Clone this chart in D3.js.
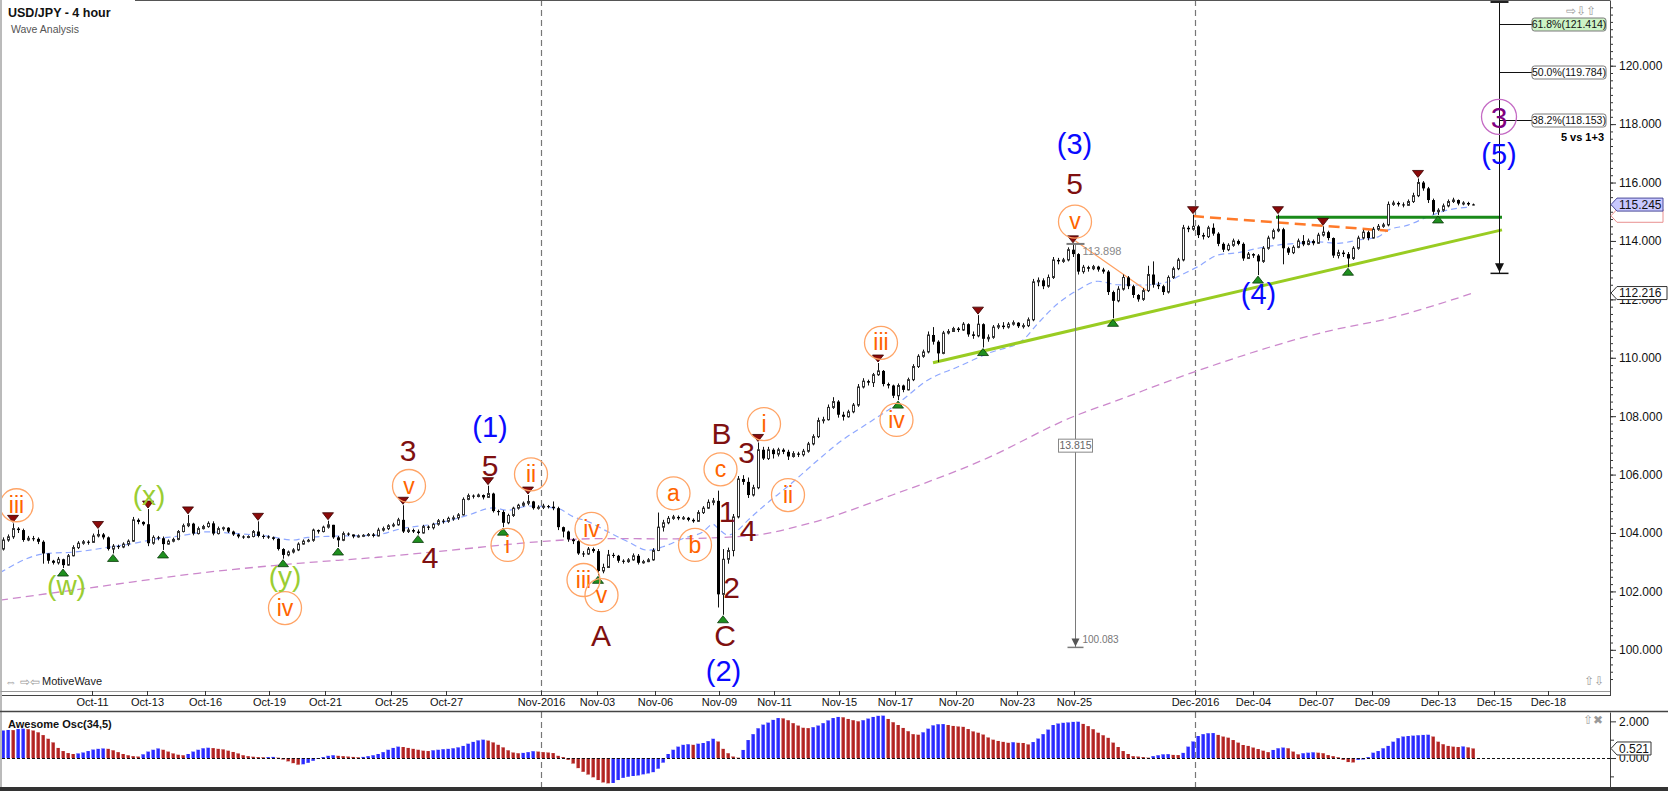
<!DOCTYPE html>
<html>
<head>
<meta charset="utf-8">
<script src="https://cdn.jsdelivr.net/npm/d3@7"></script>
<style>
  body { margin: 0; background: #fff; }
  svg { display: block; }
  text { font-family: "Liberation Sans", Arial, sans-serif; }
</style>
</head>
<body>
<svg id="chart" width="1668" height="791"></svg>
<script>
// ---- data (bar index = 4-hour bar, prices in yen) ----
const firstOpen = 103.45;
const closes = [
  103.76, 103.87, 104.15, 104.10, 103.76, 103.82, 103.80, 103.70, 103.30, 103.05,
  102.98, 103.10, 102.90, 103.22, 103.50, 103.65, 103.70, 103.68, 103.90, 103.95,
  103.85, 103.45, 103.55, 103.52, 103.62, 103.72, 104.45, 104.38, 104.30, 103.65,
  103.85, 103.82, 103.62, 103.72, 103.78, 104.05, 104.25, 104.32, 103.98, 104.15,
  104.22, 104.33, 103.98, 104.15, 104.18, 104.05, 103.95, 103.88, 103.85, 103.88,
  104.05, 103.90, 103.88, 103.85, 103.80, 103.45, 103.25, 103.35, 103.42, 103.62,
  103.72, 103.75, 104.10, 104.05, 104.20, 104.28, 103.85, 103.75, 103.98, 103.95,
  103.88, 103.90, 103.92, 103.95, 103.90, 104.10, 104.15, 104.25, 104.28, 104.45,
  104.05, 104.10, 104.05, 104.00, 104.22, 104.18, 104.30, 104.42, 104.40, 104.50,
  104.52, 104.62, 105.15, 105.28, 105.25, 105.30, 105.22, 105.35, 104.75, 104.72,
  104.35, 104.60, 104.85, 104.95, 105.02, 105.08, 104.85, 104.88, 104.92, 104.90,
  104.85, 104.20, 104.05, 103.78, 103.72, 103.30, 103.28, 103.45, 103.38, 102.70,
  102.82, 103.25, 103.22, 103.05, 103.02, 103.08, 103.22, 102.98, 103.02, 103.08,
  103.40, 104.20, 104.35, 104.50, 104.55, 104.50, 104.52, 104.45, 104.40, 104.70,
  104.85, 105.05, 105.10, 101.90, 103.10, 103.40, 104.55, 105.85, 105.75, 105.30,
  105.55, 106.85, 106.55, 106.85, 106.70, 106.85, 106.78, 106.62, 106.72, 106.68,
  106.80, 107.05, 107.30, 107.85, 107.88, 108.30, 108.50, 108.05, 107.98, 108.15,
  108.38, 109.00, 109.20, 109.15, 109.42, 109.55, 109.10, 109.05, 108.70, 109.05,
  108.90, 109.25, 109.70, 110.05, 110.20, 110.78, 110.55, 110.15, 110.85, 110.90,
  111.00, 110.95, 111.15, 110.80, 110.75, 111.15, 110.65, 110.70, 111.05, 111.10,
  111.05, 111.15, 111.20, 111.08, 111.10, 111.30, 112.60, 112.65, 112.45, 112.75,
  113.35, 113.30, 113.35, 113.70, 113.55, 112.95, 113.10, 113.05, 113.12, 113.02,
  112.95, 112.25, 111.95, 112.35, 112.75, 112.45, 112.15, 112.00, 112.30, 112.85,
  112.50, 112.45, 112.25, 112.75, 113.05, 113.35, 114.45, 114.40, 114.50, 114.20,
  114.15, 114.45, 114.25, 113.90, 113.70, 113.85, 114.00, 113.90, 113.40, 113.55,
  113.50, 113.30, 113.75, 114.10, 114.35, 114.40, 113.75, 113.60, 113.78, 114.00,
  113.88, 114.00, 113.92, 114.20, 114.30, 114.10, 113.50, 113.60, 113.55, 113.40,
  113.75, 114.10, 114.30, 114.10, 114.40, 114.50, 114.55, 115.25, 115.30, 115.25,
  115.22, 115.35, 115.55, 116.00, 115.80, 115.40, 115.00, 115.05, 115.20, 115.35,
  115.40, 115.28, 115.30, 115.25, 115.245
];
const highs = [
  103.85, 103.95, 104.33, 104.20, 104.15, 103.90, 103.90, 103.85, 103.75, 103.30,
  103.08, 103.18, 103.12, 103.28, 103.58, 103.72, 103.76, 103.75, 103.98, 104.12,
  104.00, 103.88, 103.62, 103.60, 103.68, 103.78, 104.55, 104.50, 104.40, 104.82,
  103.92, 103.90, 103.88, 103.78, 103.84, 104.10, 104.32, 104.62, 104.35, 104.22,
  104.28, 104.40, 104.40, 104.22, 104.22, 104.20, 104.08, 103.98, 103.92, 103.92,
  104.10, 104.40, 103.95, 103.92, 103.88, 103.82, 103.48, 103.40, 103.48, 103.68,
  103.78, 103.80, 104.15, 104.12, 104.25, 104.42, 104.28, 103.90, 104.05, 104.02,
  103.95, 103.95, 103.96, 104.00, 104.00, 104.18, 104.22, 104.30, 104.35, 104.52,
  104.95, 104.18, 104.15, 104.12, 104.28, 104.26, 104.35, 104.48, 104.48, 104.56,
  104.60, 104.68, 105.22, 105.35, 105.32, 105.35, 105.32, 105.62, 105.38, 104.80,
  104.78, 104.66, 104.90, 105.00, 105.08, 105.30, 105.10, 104.95, 105.00, 104.96,
  105.08, 104.90, 104.22, 104.08, 103.82, 103.75, 103.38, 103.52, 103.50, 103.45,
  102.95, 103.42, 103.32, 103.25, 103.10, 103.14, 103.30, 103.28, 103.08, 103.14,
  103.48, 104.70, 104.45, 104.58, 104.62, 104.60, 104.58, 104.55, 104.50, 104.78,
  104.92, 105.15, 105.20, 105.45, 103.45, 103.50, 104.65, 105.95, 105.98, 105.90,
  105.65, 107.10, 106.95, 106.95, 106.90, 106.92, 106.90, 106.85, 106.80, 106.78,
  106.88, 107.12, 107.38, 107.95, 107.98, 108.40, 108.65, 108.55, 108.15, 108.22,
  108.45, 109.10, 109.30, 109.25, 109.48, 109.82, 109.58, 109.15, 109.08, 109.12,
  109.08, 109.32, 109.78, 110.12, 110.28, 110.90, 111.05, 110.60, 110.92, 110.98,
  111.06, 111.05, 111.22, 111.18, 110.90, 111.46, 111.18, 110.80, 111.12, 111.18,
  111.22, 111.22, 111.28, 111.22, 111.18, 111.38, 112.70, 112.75, 112.72, 112.85,
  113.45, 113.42, 113.42, 113.78, 113.90, 113.58, 113.18, 113.15, 113.18, 113.15,
  113.08, 113.00, 112.30, 112.45, 112.85, 112.80, 112.50, 112.18, 112.38, 113.15,
  113.30, 112.60, 112.50, 112.82, 113.12, 113.42, 114.55, 114.52, 114.90, 114.55,
  114.28, 114.52, 114.60, 114.30, 113.95, 113.92, 114.08, 114.05, 113.95, 113.62,
  113.58, 113.55, 113.82, 114.18, 114.42, 114.90, 114.45, 113.80, 113.85, 114.08,
  114.20, 114.08, 114.05, 114.28, 114.50, 114.35, 114.12, 113.70, 113.68, 113.62,
  113.82, 114.18, 114.38, 114.35, 114.48, 114.58, 114.62, 115.35, 115.38, 115.35,
  115.32, 115.42, 115.65, 116.14, 116.05, 115.85, 115.45, 115.12, 115.28, 115.42,
  115.48, 115.42, 115.36, 115.34, 115.28
];
const lows = [
  103.40, 103.70, 103.80, 104.00, 103.70, 103.72, 103.72, 103.62, 102.95, 102.95,
  102.92, 102.92, 102.80, 102.88, 103.20, 103.45, 103.60, 103.60, 103.66, 103.85,
  103.78, 103.40, 103.30, 103.45, 103.48, 103.55, 103.70, 104.30, 104.25, 103.55,
  103.60, 103.75, 103.42, 103.60, 103.68, 103.75, 104.02, 104.20, 103.92, 103.95,
  104.12, 104.18, 103.92, 103.95, 104.08, 104.00, 103.90, 103.82, 103.80, 103.82,
  103.85, 103.85, 103.80, 103.80, 103.75, 103.40, 103.12, 103.20, 103.30, 103.38,
  103.60, 103.68, 103.70, 103.98, 104.02, 104.15, 103.80, 103.52, 103.72, 103.90,
  103.82, 103.84, 103.86, 103.88, 103.85, 103.88, 104.05, 104.10, 104.20, 104.25,
  104.00, 104.00, 104.00, 103.95, 103.98, 104.10, 104.12, 104.25, 104.32, 104.35,
  104.42, 104.45, 104.60, 105.12, 105.18, 105.22, 105.15, 105.20, 104.70, 104.60,
  104.20, 104.30, 104.55, 104.80, 104.90, 104.95, 104.80, 104.80, 104.82, 104.84,
  104.78, 104.10, 103.85, 103.70, 103.62, 103.25, 103.18, 103.25, 103.32, 102.55,
  102.62, 102.80, 103.15, 102.98, 102.95, 102.98, 103.05, 102.92, 102.95, 103.00,
  103.05, 103.38, 104.05, 104.30, 104.45, 104.44, 104.45, 104.40, 104.35, 104.38,
  104.65, 104.82, 104.95, 101.45, 101.20, 102.95, 103.20, 104.50, 105.65, 105.20,
  105.25, 105.50, 106.50, 106.50, 106.55, 106.62, 106.70, 106.50, 106.58, 106.60,
  106.62, 106.75, 107.00, 107.25, 107.75, 107.85, 108.25, 107.95, 107.85, 107.95,
  108.10, 108.32, 108.95, 109.05, 109.00, 109.38, 109.02, 108.95, 108.62, 108.55,
  108.82, 108.88, 109.20, 109.65, 110.00, 110.15, 110.45, 109.85, 110.12, 110.80,
  110.90, 110.88, 110.92, 110.72, 110.65, 110.70, 110.35, 110.55, 110.65, 110.98,
  110.98, 111.00, 111.10, 111.02, 111.00, 111.05, 111.25, 112.45, 112.35, 112.40,
  112.70, 113.20, 113.25, 113.30, 113.45, 112.85, 112.88, 112.95, 113.00, 112.95,
  112.88, 112.15, 111.35, 111.90, 112.30, 112.35, 112.05, 111.92, 111.95, 112.25,
  112.40, 112.35, 112.15, 112.20, 112.70, 113.00, 113.30, 114.30, 114.35, 114.10,
  114.05, 114.10, 114.18, 113.82, 113.62, 113.65, 113.80, 113.85, 113.32, 113.38,
  113.42, 112.83, 113.25, 113.70, 114.05, 114.30, 113.20, 113.52, 113.55, 113.75,
  113.82, 113.85, 113.85, 113.90, 114.15, 114.02, 113.42, 113.40, 113.45, 113.10,
  113.35, 113.70, 114.05, 114.02, 114.08, 114.35, 114.45, 114.50, 115.20, 115.18,
  115.15, 115.20, 115.30, 115.50, 115.72, 115.30, 114.90, 114.89, 115.00, 115.15,
  115.30, 115.22, 115.22, 115.20, 115.22
];
const awesomeOsc = [
  1.50, 1.53, 1.52, 1.58, 1.60, 1.57, 1.50, 1.40, 1.25, 1.05,
  0.85, 0.55, 0.38, 0.27, 0.22, 0.25, 0.30, 0.38, 0.46, 0.50,
  0.52, 0.50, 0.42, 0.32, 0.22, 0.15, 0.10, 0.08, 0.20, 0.35,
  0.45, 0.52, 0.45, 0.35, 0.25, 0.18, 0.15, 0.22, 0.35, 0.45,
  0.53, 0.56, 0.54, 0.50, 0.47, 0.40, 0.33, 0.25, 0.15, 0.10,
  0.07, 0.05, 0.04, 0.05, 0.06, 0.02, -0.08, -0.18, -0.28, -0.36,
  -0.34, -0.26, -0.15, -0.05, 0.05, 0.12, 0.15, 0.12, 0.10, 0.08,
  0.06, 0.04, 0.06, 0.10, 0.15, 0.22, 0.32, 0.45, 0.55, 0.62,
  0.60, 0.55, 0.50, 0.45, 0.40, 0.38, 0.42, 0.45, 0.48, 0.50,
  0.53, 0.58, 0.66, 0.78, 0.88, 0.96, 1.00, 0.95, 0.85, 0.72,
  0.58, 0.42, 0.30, 0.26, 0.28, 0.32, 0.37, 0.35, 0.32, 0.30,
  0.27, 0.12, 0.05, -0.10, -0.30, -0.55, -0.75, -0.90, -1.05, -1.20,
  -1.33, -1.38, -1.36, -1.20, -1.08, -1.02, -0.98, -0.95, -0.89, -0.84,
  -0.77, -0.58, -0.25, 0.22, 0.45, 0.62, 0.72, 0.75, 0.72, 0.78,
  0.82, 0.92, 1.05, 0.90, 0.50, 0.26, 0.08, 0.02, 0.44, 0.98,
  1.30, 1.62, 1.82, 1.93, 2.08, 2.18, 2.16, 2.06, 1.90, 1.77,
  1.65, 1.63, 1.68, 1.77, 1.90, 2.05, 2.18, 2.24, 2.22, 2.13,
  2.06, 2.00, 2.06, 2.15, 2.24, 2.30, 2.31, 2.13, 1.95, 1.80,
  1.64, 1.46, 1.30, 1.27, 1.40, 1.60, 1.78, 1.84, 1.85, 1.80,
  1.75, 1.72, 1.70, 1.58, 1.45, 1.38, 1.28, 1.12, 1.00, 0.93,
  0.88, 0.83, 0.86, 0.83, 0.82, 0.74, 0.87, 1.06, 1.30, 1.55,
  1.80, 1.88, 1.92, 1.94, 1.97, 1.98, 1.86, 1.74, 1.57, 1.38,
  1.24, 1.10, 0.84, 0.60, 0.38, 0.22, 0.10, 0.08, 0.05, 0.02,
  0.10, 0.15, 0.20, 0.21, 0.17, 0.16, 0.28, 0.62, 0.90, 1.20,
  1.30, 1.35, 1.36, 1.26, 1.17, 1.11, 0.98, 0.84, 0.71, 0.66,
  0.57, 0.49, 0.40, 0.32, 0.44, 0.53, 0.57, 0.53, 0.35, 0.20,
  0.26, 0.29, 0.31, 0.29, 0.26, 0.16, 0.10, 0.04, -0.10, -0.22,
  -0.24, -0.10, -0.08, 0.05, 0.29, 0.38, 0.53, 0.66, 0.89, 1.08,
  1.17, 1.20, 1.22, 1.24, 1.26, 1.27, 1.17, 0.89, 0.75, 0.66,
  0.62, 0.60, 0.63, 0.58, 0.521
];

// moving averages, vertices: [bar, price]
const fastMa = [
  [-0.6, 102.64], [8, 103.28], [15, 103.36], [21, 103.51], [26, 103.64], [31, 103.81],
  [35, 103.89], [41, 104.04], [46, 103.99], [53, 103.89], [58, 103.76], [61, 103.85],
  [66, 103.89], [74, 103.92], [80, 104.16], [87, 104.33], [93, 104.61], [98, 104.86],
  [101, 104.78], [105, 104.92], [111, 104.84], [114, 104.56], [117, 104.39], [121, 104.04],
  [125, 103.70], [129, 103.41], [132, 103.53], [136, 103.81], [140, 104.04], [142, 104.30],
  [143, 104.16], [145, 103.93], [147, 104.10], [149, 104.44], [152, 104.90], [157, 105.60],
  [163, 106.50], [167, 107.07], [174, 107.87], [179, 108.44], [185, 109.24], [191, 109.69],
  [197, 110.15], [204, 110.61], [207, 111.18], [211, 111.86], [215, 112.32], [219, 112.62],
  [223, 112.50], [228, 112.49], [233, 112.60], [235, 112.78], [239, 113.12], [243, 113.52],
  [247, 113.60], [251, 113.75], [255, 113.86], [259, 113.92], [263, 113.97], [267, 113.92],
  [271, 114.03], [275, 114.14], [277, 114.37], [281, 114.54], [285, 114.83], [289, 115.06],
  [293, 115.15]
];
const slowMa = [
  [-0.6, 101.70], [19, 102.16], [39, 102.62], [59, 102.96], [75, 103.17], [93, 103.47],
  [107, 103.70], [120, 103.81], [133, 103.80], [149, 103.90], [161, 104.32], [178, 105.31],
  [196, 106.50], [214, 107.98], [223, 108.55], [238, 109.50], [266, 110.95], [276, 111.30],
  [294, 112.216]
];

// x axis
const dateTicks = ['Oct-11', 'Oct-13', 'Oct-16', 'Oct-19', 'Oct-21', 'Oct-25', 'Oct-27', 'Nov-2016',
  'Nov-03', 'Nov-06', 'Nov-09', 'Nov-11', 'Nov-15', 'Nov-17', 'Nov-20', 'Nov-23', 'Nov-25',
  'Dec-2016', 'Dec-04', 'Dec-07', 'Dec-09', 'Dec-13', 'Dec-15', 'Dec-18'];
const dateTickBars = [17.8, 28.8, 40.4, 53.2, 64.4, 77.6, 88.6, 107.6, 118.8, 130.4, 143.2, 154.2,
  167.2, 178.4, 190.6, 202.8, 214.2, 238.4, 250, 262.6, 273.8, 287, 298.2, 309];
const monthStarts = [107.6, 238.4];
const priceTicks = [100, 102, 104, 106, 108, 110, 112, 114, 116, 118, 120];
const oscTicks = [0, 2];

// swing markers (bar indexes)
const swingHighs = [2, 19, 29, 37, 51, 65, 80, 97, 105, 151, 175, 195, 214, 238, 255, 264, 283];
const swingLows = [12, 22, 32, 56, 67, 83, 100, 119, 144, 179, 196, 222, 251, 269, 287];

// wave labels: [bar, price, text]
const minuteWaves = [
  [2.7, 104.95, 'iii'], [56.4, 101.43, 'iv'], [81.2, 105.61, 'v'], [100.9, 103.59, 'i'],
  [105.6, 106.01, 'ii'], [117.7, 104.14, 'iv'], [116.1, 102.39, 'iii'], [119.7, 101.87, 'v'],
  [134.1, 105.36, 'a'], [138.4, 103.59, 'b'], [143.5, 106.18, 'c'], [152.2, 107.73, 'i'],
  [157, 105.30, 'ii'], [175.6, 110.51, 'iii'], [178.7, 107.87, 'iv'], [214.4, 114.66, 'v']
];
const minorWaves = [
  [81, 106.84, '3'], [85.4, 103.18, '4'], [97.4, 106.33, '5'], [119.6, 100.50, 'A'],
  [143.7, 107.41, 'B'], [144.8, 104.73, '1'], [145.7, 102.16, '2'], [144.4, 100.50, 'C'],
  [148.7, 106.77, '3'], [149, 104.10, '4'], [214.3, 115.98, '5']
];
const intermediateWaves = [
  [97.4, 107.64, '(1)'], [144.1, 99.30, '(2)'], [214.3, 117.33, '(3)'], [251.1, 112.21, '(4)'],
  [299.2, 117.00, '(5)']
];
const complexWaves = [[12.7, 102.16, '(w)'], [29.2, 105.24, '(x)'], [56.4, 102.46, '(y)']];
const primaryWave = [299.2, 118.25, '3'];

// drawn lines: [[bar, price], [bar, price]]
const supportLine = [[186, 109.83], [299.8, 114.38]];
const resistanceLine = [[238, 114.85], [277, 114.35]];
const breakoutLine = [[254.6, 114.81], [299.8, 114.81]];
const channelLine = [[214.5, 114.0], [228.7, 112.3]];

// measure and fibonacci tools
const measureBar = 214.4;
const measureFrom = 113.898;
const measureTo = 100.083;
const fibBar = 299.2;
const fibTop = 122.18;
const fibBottom = 112.89;
const fibRatios = ['61.8%', '50.0%', '38.2%'];
const fibPrices = [121.414, 119.784, 118.153];

// ---- layout ----
const W = 1668, H = 791;
const plotLeft = 2, plotRight = 1610, mainBottom = 691, oscTop = 712, oscBottom = 787;

const svg = d3.select('#chart');
const x = d3.scaleLinear().domain([-0.6, 321.4]).range([0, plotRight]);
const y = d3.scaleLinear().domain([98.59, 122.25]).range([mainBottom, 0]);
const yOsc = d3.scaleLinear().domain([-1.58, 2.51]).range([oscBottom, oscTop]);
const px = (v) => Math.round(v) + 0.5;

svg.append('rect').attr('width', W).attr('height', H).attr('fill', '#fff');

const defs = svg.append('defs');
defs.append('clipPath').attr('id', 'clipMain').append('rect')
  .attr('x', plotLeft).attr('y', 0).attr('width', plotRight - plotLeft).attr('height', mainBottom);
defs.append('clipPath').attr('id', 'clipOsc').append('rect')
  .attr('x', plotLeft).attr('y', oscTop).attr('width', plotRight - plotLeft).attr('height', oscBottom - oscTop);

const main = svg.append('g').attr('clip-path', 'url(#clipMain)');
const osc = svg.append('g').attr('clip-path', 'url(#clipOsc)');

// month separators
[main, osc].forEach((g, k) => {
  g.selectAll('line.month').data(monthStarts).join('line')
    .attr('class', 'month')
    .attr('x1', (d) => px(x(d))).attr('x2', (d) => px(x(d)))
    .attr('y1', k ? oscTop : 0).attr('y2', k ? oscBottom : mainBottom)
    .attr('stroke', '#777').attr('stroke-width', 1.2).attr('stroke-dasharray', '6,4');
});

// moving averages
const maLine = d3.line().x((d) => x(d[0])).y((d) => y(d[1])).curve(d3.curveMonotoneX);
main.append('path').attr('d', maLine(slowMa)).attr('fill', 'none')
  .attr('stroke', '#cc88cc').attr('stroke-width', 1.3).attr('stroke-dasharray', '8,5');
main.append('path').attr('d', maLine(fastMa)).attr('fill', 'none')
  .attr('stroke', '#8fa8ff').attr('stroke-width', 1.2).attr('stroke-dasharray', '6,4');

// trend lines
const seg = d3.line().x((d) => x(d[0])).y((d) => y(d[1]));
main.append('path').attr('d', seg(channelLine)).attr('stroke', '#ffa060').attr('stroke-width', 1.2).attr('fill', 'none');
main.append('path').attr('d', seg(supportLine)).attr('stroke', '#99cc22').attr('stroke-width', 3).attr('fill', 'none');
main.append('path').attr('d', seg(resistanceLine)).attr('stroke', '#ff7a2a').attr('stroke-width', 2.5)
  .attr('stroke-dasharray', '11,6').attr('fill', 'none');
main.append('path').attr('d', seg(breakoutLine)).attr('stroke', '#1a8a1a').attr('stroke-width', 3).attr('fill', 'none');

// candles
const bars = closes.map((c, i) => ({
  i, c, o: i === 0 ? firstOpen : closes[i - 1], h: highs[i], l: lows[i],
}));
const candles = main.append('g');
candles.selectAll('line').data(bars).join('line')
  .attr('x1', (d) => px(x(d.i))).attr('x2', (d) => px(x(d.i)))
  .attr('y1', (d) => y(Math.max(d.h, d.o, d.c))).attr('y2', (d) => y(Math.min(d.l, d.o, d.c)))
  .attr('stroke', '#111').attr('stroke-width', 1);
candles.selectAll('rect').data(bars).join('rect')
  .attr('x', (d) => (d.c >= d.o ? Math.round(x(d.i)) - 0.5 : Math.round(x(d.i)) - 1))
  .attr('width', (d) => (d.c >= d.o ? 2 : 3))
  .attr('y', (d) => y(Math.max(d.o, d.c)))
  .attr('height', (d) => Math.max(1, Math.abs(y(d.o) - y(d.c))))
  .attr('fill', (d) => (d.c >= d.o ? '#fff' : '#000'))
  .attr('stroke', (d) => (d.c >= d.o ? '#333' : 'none'))
  .attr('stroke-width', 1);

// swing markers
main.selectAll('path.hi').data(swingHighs).join('path').attr('class', 'hi')
  .attr('d', (i) => {
    const cx = x(i), t = y(highs[i]) - 1;
    return `M${cx - 5.5},${t - 7}L${cx + 5.5},${t - 7}L${cx},${t}Z`;
  })
  .attr('fill', '#8b0a0a').attr('stroke', '#3a0000').attr('stroke-width', 0.8);
main.selectAll('path.lo').data(swingLows).join('path').attr('class', 'lo')
  .attr('d', (i) => {
    const cx = x(i), t = y(lows[i]) + 1;
    return `M${cx - 5.5},${t + 7}L${cx + 5.5},${t + 7}L${cx},${t}Z`;
  })
  .attr('fill', '#1f8f1f').attr('stroke', '#0a3a0a').attr('stroke-width', 0.8);

// measure tool
const mx = px(x(measureBar)), myTop = y(measureFrom), myBot = y(measureTo);
main.append('line').attr('x1', mx).attr('x2', mx).attr('y1', myTop).attr('y2', myBot)
  .attr('stroke', '#7a7a7a');
main.append('line').attr('x1', mx - 9).attr('x2', mx + 9).attr('y1', myTop).attr('y2', myTop)
  .attr('stroke', '#7a7a7a').attr('stroke-width', 2);
main.append('line').attr('x1', mx - 8).attr('x2', mx + 8).attr('y1', myBot).attr('y2', myBot)
  .attr('stroke', '#7a7a7a').attr('stroke-width', 1.5);
main.append('path').attr('d', `M${mx - 4},${myBot - 9}L${mx + 4},${myBot - 9}L${mx},${myBot - 1}Z`)
  .attr('fill', '#555');
main.append('text').attr('x', mx + 7).attr('y', myTop + 11).text(measureFrom.toFixed(3))
  .attr('font-size', 11).attr('fill', '#888');
main.append('text').attr('x', mx + 7).attr('y', myBot - 4).text(measureTo.toFixed(3))
  .attr('font-size', 10).attr('fill', '#777');
const myMid = (myTop + myBot) / 2;
main.append('rect').attr('x', mx - 17).attr('y', myMid - 6.5).attr('width', 34).attr('height', 13)
  .attr('fill', '#fff').attr('stroke', '#888');
main.append('text').attr('x', mx).attr('y', myMid).attr('dy', '0.35em').attr('text-anchor', 'middle')
  .text((measureFrom - measureTo).toFixed(3)).attr('font-size', 10.5).attr('fill', '#666');

// fibonacci tool
const fx = px(x(fibBar));
main.append('line').attr('x1', fx).attr('x2', fx).attr('y1', y(fibTop)).attr('y2', y(fibBottom))
  .attr('stroke', '#111');
main.append('rect').attr('x', fx - 9).attr('y', 0).attr('width', 18).attr('height', 3).attr('fill', '#222');
main.append('line').attr('x1', fx - 9).attr('x2', fx + 9).attr('y1', y(fibBottom)).attr('y2', y(fibBottom))
  .attr('stroke', '#111').attr('stroke-width', 1.5);
main.append('path')
  .attr('d', `M${fx - 4.5},${y(fibBottom) - 10}L${fx + 4.5},${y(fibBottom) - 10}L${fx},${y(fibBottom) - 1}Z`)
  .attr('fill', '#111');
const fib = main.append('g');
fibPrices.forEach((p, k) => {
  const fy = px(y(p));
  fib.append('line').attr('x1', fx).attr('x2', 1532).attr('y1', fy).attr('y2', fy).attr('stroke', '#111');
  fib.append('rect').attr('x', 1532).attr('y', fy - 6.5).attr('width', 74).attr('height', 13).attr('rx', 2.5)
    .attr('fill', k === 0 ? '#cdf3c6' : '#fff').attr('stroke', '#7a7a7a');
  fib.append('text').attr('x', 1569).attr('y', fy).attr('dy', '0.35em').attr('text-anchor', 'middle')
    .attr('font-size', 10.5).attr('fill', '#111').text(`${fibRatios[k]}(${p.toFixed(3)})`);
});
fib.append('text').attr('x', 1604).attr('y', y(fibPrices[2]) + 17.5).attr('dy', '0.35em')
  .attr('text-anchor', 'end').attr('font-size', 11).attr('font-weight', 'bold').text('5 vs 1+3');

// wave labels
const labels = main.append('g').attr('text-anchor', 'middle');
minuteWaves.forEach(([b, p, t]) => {
  labels.append('circle').attr('cx', x(b)).attr('cy', y(p)).attr('r', 16.5)
    .attr('fill', 'none').attr('stroke', '#ffa466').attr('stroke-width', 1.3);
  labels.append('text').attr('x', x(b)).attr('y', y(p)).attr('dy', '0.33em').text(t)
    .attr('font-size', 23).attr('fill', '#ff6400');
});
minorWaves.forEach(([b, p, t]) => {
  labels.append('text').attr('x', x(b)).attr('y', y(p)).attr('dy', '0.36em').text(t)
    .attr('font-size', 30).attr('fill', '#7f1010');
});
intermediateWaves.forEach(([b, p, t]) => {
  labels.append('text').attr('x', x(b)).attr('y', y(p)).attr('dy', '0.36em').text(t)
    .attr('font-size', 29).attr('fill', '#0a0aff');
});
complexWaves.forEach(([b, p, t]) => {
  labels.append('text').attr('x', x(b)).attr('y', y(p)).attr('dy', '0.3em').text(t)
    .attr('font-size', 28).attr('fill', '#9acd32');
});
labels.append('circle').attr('cx', x(primaryWave[0])).attr('cy', y(primaryWave[1])).attr('r', 17.5)
  .attr('fill', 'none').attr('stroke', '#c46ac4').attr('stroke-width', 1.3);
labels.append('text').attr('x', x(primaryWave[0])).attr('y', y(primaryWave[1])).attr('dy', '0.36em')
  .text(primaryWave[2]).attr('font-size', 30).attr('fill', '#800080');

// oscillator bars (blue when rising, red when falling), with a light left edge
const rising = (d, i) => i === 0 || d >= awesomeOsc[i - 1];
osc.selectAll('rect.bar').data(awesomeOsc).join('rect').attr('class', 'bar')
  .attr('x', (d, i) => x(i) - 1.8).attr('width', 3.6)
  .attr('y', (d) => yOsc(Math.max(0, d)))
  .attr('height', (d) => Math.abs(yOsc(d) - yOsc(0)))
  .attr('fill', (d, i) => (rising(d, i) ? '#2626ff' : '#b0201e'));
osc.selectAll('rect.edge').data(awesomeOsc).join('rect').attr('class', 'edge')
  .attr('x', (d, i) => x(i) - 1.8).attr('width', 0.9)
  .attr('y', (d) => yOsc(Math.max(0, d)))
  .attr('height', (d) => Math.abs(yOsc(d) - yOsc(0)))
  .attr('fill', (d, i) => (rising(d, i) ? '#9a9aff' : '#e6a0a0'));
osc.append('line').attr('x1', plotLeft).attr('x2', plotRight)
  .attr('y1', px(yOsc(0))).attr('y2', px(yOsc(0)))
  .attr('stroke', '#111').attr('stroke-dasharray', '3,2');

// frames
svg.append('line').attr('x1', 135).attr('x2', plotRight).attr('y1', 0.5).attr('y2', 0.5).attr('stroke', '#555');
svg.append('line').attr('x1', 1).attr('x2', 1).attr('y1', 0).attr('y2', oscBottom).attr('stroke', '#777');
svg.append('line').attr('x1', plotLeft).attr('x2', plotRight).attr('y1', 695.5).attr('y2', 695.5)
  .attr('stroke', '#444').attr('stroke-width', 1.2);
svg.append('line').attr('x1', 0).attr('x2', W).attr('y1', oscTop - 0.5).attr('y2', oscTop - 0.5)
  .attr('stroke', '#444').attr('stroke-width', 1.5);
svg.append('rect').attr('x', 0).attr('y', oscBottom).attr('width', W).attr('height', H - oscBottom).attr('fill', '#333');

// date axis
const xAxis = d3.axisBottom(x).tickValues(dateTickBars)
  .tickFormat((d, i) => dateTicks[i]).tickSize(4).tickSizeOuter(0).tickPadding(3);
const xg = svg.append('g').attr('transform', `translate(0,${mainBottom})`).call(xAxis);
xg.select('.domain').attr('stroke', '#999');
xg.selectAll('.tick line').attr('stroke', '#333');
xg.selectAll('.tick text').attr('font-size', 11).attr('fill', '#111')
  .attr('font-family', '"Liberation Sans", Arial, sans-serif');

// price axis
const yMinor = d3.axisRight(y).tickValues(d3.range(99, 122.01, 0.25)).tickSize(3).tickFormat('');
const ym = svg.append('g').attr('transform', `translate(${plotRight},0)`).call(yMinor);
ym.select('.domain').remove();
ym.selectAll('.tick line').attr('stroke', '#333');
const yAxis = d3.axisRight(y).tickValues(priceTicks).tickFormat(d3.format('.3f'))
  .tickSize(6).tickSizeOuter(0).tickPadding(3);
const yg = svg.append('g').attr('transform', `translate(${plotRight},0)`).call(yAxis);
yg.select('.domain').attr('stroke', '#444');
yg.selectAll('.tick line').attr('stroke', '#333');
yg.selectAll('.tick text').attr('font-size', 12).attr('fill', '#111')
  .attr('font-family', '"Liberation Sans", Arial, sans-serif');
svg.append('line').attr('x1', plotRight + 0.5).attr('x2', plotRight + 0.5).attr('y1', mainBottom).attr('y2', 696)
  .attr('stroke', '#444');

// oscillator axis
const oAxis = d3.axisRight(yOsc).tickValues(oscTicks).tickFormat(d3.format('.3f'))
  .tickSize(6).tickSizeOuter(0).tickPadding(3);
const og = svg.append('g').attr('transform', `translate(${plotRight},0)`).call(oAxis);
og.select('.domain').attr('stroke', '#444');
og.selectAll('.tick line').attr('stroke', '#333');
og.selectAll('.tick text').attr('font-size', 12).attr('fill', '#111')
  .attr('font-family', '"Liberation Sans", Arial, sans-serif');
const oMinor = d3.axisRight(yOsc).tickValues([-1, 1]).tickSize(4).tickFormat('');
const om = svg.append('g').attr('transform', `translate(${plotRight},0)`).call(oMinor);
om.select('.domain').remove();
om.selectAll('.tick line').attr('stroke', '#333');

// last value tags on the axes
function tag(cy, label, fill, stroke, w) {
  const x0 = plotRight + 1;
  const g = svg.append('g');
  g.append('path')
    .attr('d', `M${x0},${cy}L${x0 + 6},${cy - 6.5}L${x0 + w},${cy - 6.5}L${x0 + w},${cy + 6.5}L${x0 + 6},${cy + 6.5}Z`)
    .attr('fill', fill).attr('stroke', stroke);
  g.append('text').attr('x', x0 + 8).attr('y', cy).attr('dy', '0.36em').text(label)
    .attr('font-size', 12).attr('fill', '#111');
}
tag(y(breakoutLine[0][1]) - 1.5, '', '#fff', '#e89090', 52);
tag(y(closes[closes.length - 1]), closes[closes.length - 1].toFixed(3), '#c8c8ff', '#4a4a9a', 52);
tag(y(slowMa[slowMa.length - 1][1]), slowMa[slowMa.length - 1][1].toFixed(3), '#fff', '#333', 56);
tag(yOsc(awesomeOsc[awesomeOsc.length - 1]), awesomeOsc[awesomeOsc.length - 1].toFixed(3), '#fff', '#333', 40);

// titles and chrome
svg.append('text').attr('x', 8).attr('y', 17).text('USD/JPY - 4 hour')
  .attr('font-size', 12.5).attr('font-weight', 'bold').attr('fill', '#111');
svg.append('text').attr('x', 11).attr('y', 33).text('Wave Analysis')
  .attr('font-size', 10.5).attr('fill', '#555');
svg.append('text').attr('x', 8).attr('y', 728).text('Awesome Osc(34,5)')
  .attr('font-size', 11).attr('font-weight', 'bold').attr('fill', '#111');
svg.append('text').attr('x', 42).attr('y', 685).text('MotiveWave')
  .attr('font-size', 11).attr('fill', '#222');
const icon = (tx, ty, s) => svg.append('text').attr('x', tx).attr('y', ty).text(s)
  .attr('font-family', '"DejaVu Sans", sans-serif').attr('font-size', 12).attr('fill', '#999');
icon(5, 686, '\u21D4 \u21E8\u21E6');
icon(1566, 15, '\u21E8\u21E9\u21E7');
icon(1584, 685, '\u21E7\u21E9');
icon(1583, 724, '\u21E7\u2716');
</script>
</body>
</html>
